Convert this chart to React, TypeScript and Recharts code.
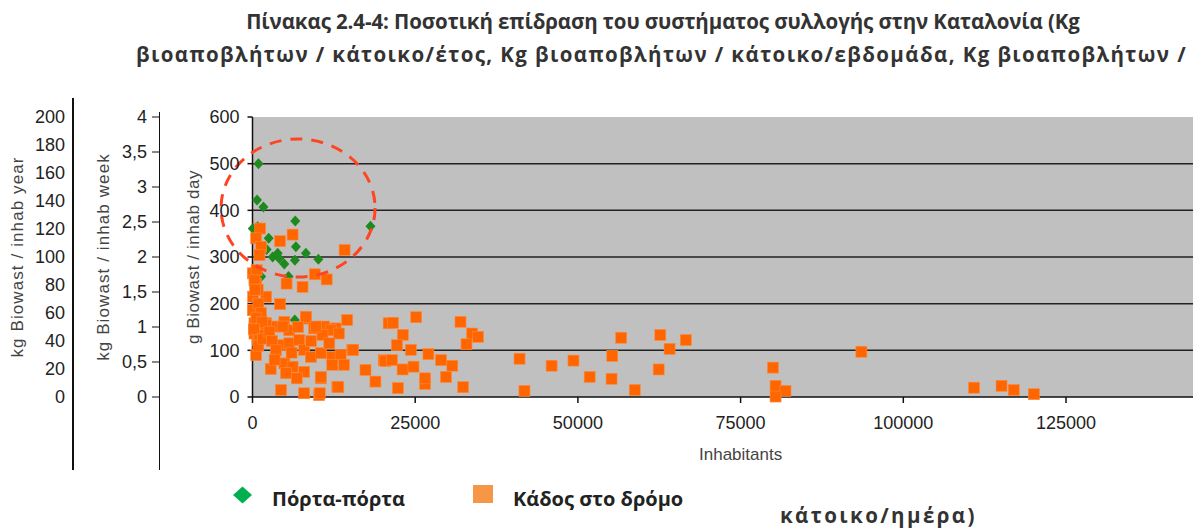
import React from 'react';
import { ScatterChart, Scatter, XAxis, YAxis, CartesianGrid, ReferenceLine, ReferenceDot, Legend, Label } from 'recharts';

// door-to-door collection (Πόρτα-πόρτα)
const doorX = [920, 700, 1680, 6570, 18130, 50, 800, 2490, 6670, 8200, 3870, 3100, 4120, 4890, 6520, 10120, 2180, 5540, 1330, 1070, 6500];
const doorY = [500, 422, 407, 377, 366, 361, 365, 340, 322, 308, 308, 300, 297, 285, 293, 295, 316, 258, 258, 179, 165];

// street bins (Κάδος στο δρόμο)
const binX = [
  1170, 560, 1330, 1070, 4230, 6160, 14150, 9570, 11400, 5240, 7690, 50, 560, 100, 2090, 4230, 50, 300, 300, 800,
  560, 2090, 3360, 4890, 5650, 8200, 9470, 11000, 12780, 14550, 4380, 5650, 7180, 7940, 8960, 10490, 12260, 13540, 15320, 4890,
  6160, 5140, 7940, 10490, 12260, 14050, 4380, 7940, 10230, 13030, 17360, 18890, 20160, 20920, 2090, 8200, 21580, 25150, 31960, 23100,
  33750, 34660, 32880, 22190, 15470, 24330, 27030, 20410, 21430, 28970, 30700, 23060, 24740, 41030, 26520, 26520, 29730, 32370, 22340, 13180,
  41790, 10340, 10490, 12020, 13280, 10750, 1070, 4630, 9730, 45960, 49320, 51810, 55170, 55280, 56650, 58740, 62410, 62660, 64090, 66580,
  79970, 80370, 81900, 80370, 93560, 110860, 115090, 116970, 120070, 640, 300, 800, 400, 900, 1300, 600, 1500, 200, 900, 1600,
  2600, 3000, 3600, 2800, 3400, 6000, 6800, 7000, 9000, 11800,
];
const binY = [
  361, 340, 322, 304, 334, 348, 315, 263, 252, 243, 236, 265, 243, 215, 215, 199, 186, 158, 136, 122,
  90, 158, 151, 161, 143, 168, 147, 151, 147, 165, 111, 115, 122, 101, 86, 94, 86, 90, 101, 72,
  65, 51, 54, 40, 69, 69, 15, 8, 4, 22, 58, 33, 79, 158, 154, 172, 159, 171, 161, 133,
  136, 129, 113, 111, 101, 101, 92, 77, 79, 79, 67, 59, 65, 82, 28, 40, 43, 21, 19, 21,
  13, 8, 43, 143, 136, 133, 133, 151, 151, 67, 78, 43, 39, 88, 127, 15, 59, 133, 103, 122,
  63, 24, 13, 1, 97, 20, 24, 15, 6, 272, 250, 230, 230, 200, 180, 170, 160, 145, 110, 125,
  140, 120, 100, 60, 80, 95, 40, 150, 120, 115,
];

const xTicks = [0, 25000, 50000, 75000, 100000, 125000];
const dayTicks = [0, 100, 200, 300, 400, 500, 600];
const weekTicks = [0, 0.5, 1, 1.5, 2, 2.5, 3, 3.5, 4];
const yearTicks = [0, 20, 40, 60, 80, 100, 120, 140, 160, 180, 200];
const gridValues = [100, 200, 300, 400, 500];
const circleCenter = { x: 7000, y: 405 };

const doorData = doorX.map((x, i) => ({ x, y: doorY[i] }));
const binData = binX.map((x, i) => ({ x, y: binY[i] }));

const DOOR = 'Πόρτα-πόρτα';
const BIN = 'Κάδος στο δρόμο';

const Diamond = (props: any) => {
  const { cx, cy } = props;
  return <polygon points={`${cx},${cy - 5.5} ${cx + 5},${cy} ${cx},${cy + 5.5} ${cx - 5},${cy}`} fill="#1e8a1e" />;
};

const Square = (props: any) => {
  const { cx, cy } = props;
  return <rect x={cx - 5.5} y={cy - 5.5} width={11} height={11} fill="#ff6600" stroke="#ff8a3d" strokeWidth={0.6} />;
};

const Ellipse = (props: any) => (
  <ellipse cx={props.cx} cy={props.cy} rx={77} ry={69} fill="none" stroke="#ff4422" strokeWidth={3} strokeDasharray="12 9" />
);

const legendText: React.CSSProperties = {
  position: 'absolute',
  top: 7,
  whiteSpace: 'nowrap',
  fontFamily: '"Open Sans", sans-serif',
  fontWeight: 700,
  fontSize: 20,
  lineHeight: '28px',
  color: '#222',
};

const renderLegend = (props: any) => {
  const { payload = [] } = props;
  return (
    <div style={{ position: 'relative', width: 600, height: 40 }}>
      {payload.map((entry: any) =>
        entry.value === DOOR ? (
          <React.Fragment key={entry.value}>
            <svg width={26} height={36} style={{ position: 'absolute', left: 0, top: 0 }}>
              <polygon points="12.5,8.5 22,17 12.5,25.5 3,17" fill="#00b050" />
            </svg>
            <span style={{ ...legendText, left: 42 }}>{entry.value}</span>
          </React.Fragment>
        ) : (
          <React.Fragment key={entry.value}>
            <div style={{ position: 'absolute', left: 243, top: 7, width: 20, height: 18, background: '#f79646' }} />
            <span style={{ ...legendText, left: 283 }}>{entry.value}</span>
          </React.Fragment>
        )
      )}
    </div>
  );
};

const fmtComma = (v: number) => String(v).replace('.', ',');

const titleLine: React.CSSProperties = {
  position: 'absolute',
  whiteSpace: 'nowrap',
  textAlign: 'center',
  fontFamily: '"Open Sans", sans-serif',
  fontWeight: 700,
  fontSize: 20.5,
  lineHeight: '33px',
  color: '#333',
};

export default function App() {
  const tickStyle = { fontSize: 18, fill: '#222' };
  const axisTitle = { fontSize: 17, fill: '#444', textAnchor: 'middle' as const, letterSpacing: 1.1 };
  return (
    <div style={{ position: 'absolute', left: 0, top: 0, width: 1193, height: 528, overflow: 'hidden', background: '#fff', fontFamily: '"Liberation Sans", Arial, sans-serif' }}>
      <div style={{ ...titleLine, left: 0, top: 5, width: 1326, letterSpacing: -0.1 }}>
        Πίνακας 2.4-4: Ποσοτική επίδραση του συστήματος συλλογής στην Καταλονία (Kg
      </div>
      <div style={{ ...titleLine, left: 0, top: 38, width: 1323, letterSpacing: 1.4 }}>
        βιοαποβλήτων / κάτοικο/έτος, Kg βιοαποβλήτων / κάτοικο/εβδομάδα, Kg βιοαποβλήτων /
      </div>
      <div style={{ ...titleLine, left: 780, top: 503, lineHeight: '24px', letterSpacing: 2.4 }}>κάτοικο/ημέρα)</div>
      <div style={{ position: 'absolute', left: 72, top: 98, width: 1.5, height: 372, background: '#111' }} />
      <div style={{ position: 'absolute', left: 158.5, top: 112, width: 1.5, height: 358, background: '#111' }} />
      <div style={{ position: 'absolute', left: 0, top: 0 }}>
        <ScatterChart width={1240} height={528} margin={{ top: 117, right: 11.3, bottom: 61, left: 0 }}>
          <CartesianGrid yAxisId="day" horizontal={false} vertical={false} fill="#c0c0c0" />
          <XAxis
            type="number"
            dataKey="x"
            domain={[0, 150000]}
            ticks={xTicks}
            interval={0}
            height={70}
            tick={tickStyle}
            tickSize={6}
            tickMargin={13}
            stroke="#111"
            strokeWidth={1.5}
          >
            <Label value="Inhabitants" position="insideBottom" offset={7} style={{ fontSize: 17, fill: '#444' }} />
          </XAxis>
          <YAxis
            yAxisId="day"
            type="number"
            dataKey="y"
            domain={[0, 600]}
            ticks={dayTicks}
            interval={0}
            width={93.5}
            tick={tickStyle}
            tickSize={5}
            tickMargin={8}
            stroke="#111"
            strokeWidth={1.5}
          >
            <Label value="g Biowast / inhab day" angle={-90} position="insideLeft" offset={34} style={{ ...axisTitle, letterSpacing: 0.6 }} />
          </YAxis>
          <YAxis
            yAxisId="week"
            type="number"
            domain={[0, 4]}
            allowDataOverflow
            ticks={weekTicks}
            interval={0}
            width={86}
            tick={tickStyle}
            tickFormatter={fmtComma}
            tickSize={7}
            tickMargin={5}
            axisLine={false}
            tickLine={{ stroke: '#111' }}
          >
            <Label value="kg Biowast /  inhab week" angle={-90} position="insideLeft" offset={30} style={axisTitle} />
          </YAxis>
          <YAxis
            yAxisId="year"
            type="number"
            domain={[0, 200]}
            allowDataOverflow
            ticks={yearTicks}
            interval={0}
            width={73}
            tick={tickStyle}
            tickLine={false}
            tickSize={0}
            tickMargin={8}
            axisLine={false}
          >
            <Label value="kg Biowast /  inhab year" angle={-90} position="insideLeft" offset={17} style={axisTitle} />
          </YAxis>
          {gridValues.map((v) => (
            <ReferenceLine key={v} yAxisId="day" y={v} stroke="#222" strokeWidth={1.5} />
          ))}
          <Scatter name={DOOR} data={doorData} yAxisId="day" fill="#1e8a1e" shape={Diamond} isAnimationActive={false} />
          <Scatter name={BIN} data={binData} yAxisId="day" fill="#ff6600" shape={Square} isAnimationActive={false} />
          <ReferenceDot yAxisId="day" x={circleCenter.x} y={circleCenter.y} ifOverflow="visible" shape={Ellipse} />
          <Legend
            layout="horizontal"
            verticalAlign="middle"
            align="center"
            content={renderLegend}
            wrapperStyle={{ position: 'absolute', left: 230, top: 478, width: 600, height: 40 }}
          />
        </ScatterChart>
      </div>
    </div>
  );
}
